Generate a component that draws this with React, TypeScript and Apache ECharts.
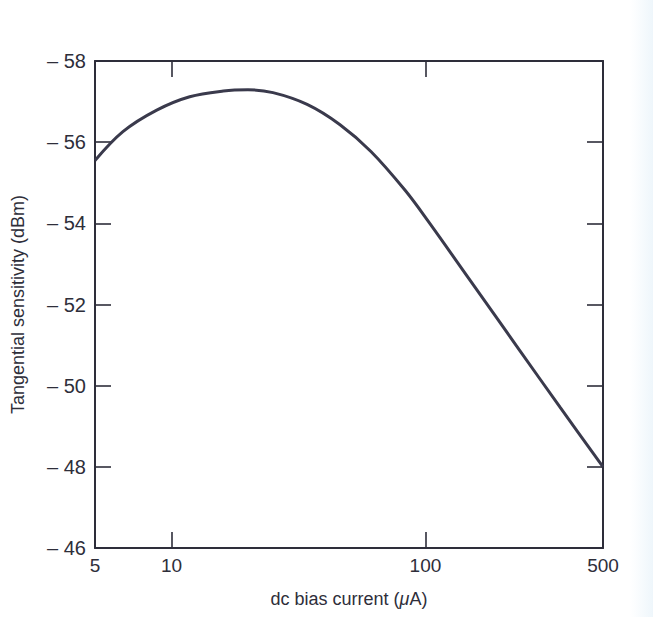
import React, { useEffect, useRef } from "react";
import * as echarts from "echarts";

const biasCurrent = [5, 6.44, 8.75, 11.8, 16, 20, 25.1, 34.2, 46.1, 61, 83, 102.3, 149.7, 235.6, 338.6, 500];
const sensitivity = [-55.55, -56.26, -56.79, -57.12, -57.26, -57.29, -57.22, -56.93, -56.43, -55.77, -54.82, -54.06, -52.6, -50.86, -49.47, -48.0];
const xTickValues = [5, 10, 100, 500];
const yMin = -58;
const yMax = -46;
const yStep = 2;

const INK = "#2e2e3a";
const FONT = "Liberation Sans";

export default function App() {
  const ref = useRef<HTMLDivElement>(null);
  useEffect(() => {
    if (!ref.current) return;
    const chart = echarts.init(ref.current, undefined, { renderer: "svg" });
    const data = biasCurrent.map((x, i) => [x, sensitivity[i]]);
    const axisLine = { show: true, lineStyle: { color: INK, width: 2 } };
    const tick = { show: true, inside: true, length: 16, lineStyle: { color: INK, width: 1.6 } };
    chart.setOption({
      animation: false,
      backgroundColor: "#ffffff",
      graphic: [
        {
          type: "rect",
          left: 630,
          top: 0,
          shape: { width: 23, height: 617 },
          silent: true,
          z: -10,
          style: {
            fill: new echarts.graphic.LinearGradient(0, 0, 1, 0, [
              { offset: 0, color: "rgba(240,247,252,0)" },
              { offset: 1, color: "rgba(238,246,251,1)" },
            ]),
          },
        },
      ],
      grid: { left: 95, right: 50, top: 61, bottom: 69, containLabel: false },
      xAxis: [
        {
          type: "log",
          logBase: 10,
          min: 5,
          max: 500,
          position: "bottom",
          axisLine,
          axisTick: tick,
          splitLine: { show: false },
          minorTick: { show: false },
          axisLabel: {
            show: true,
            color: INK,
            fontFamily: FONT,
            fontSize: 19,
            margin: 8,
            showMinLabel: true,
            showMaxLabel: true,
            formatter: (v: number) => {
              const r = Math.round(v);
              return xTickValues.includes(r) ? String(r) : "";
            },
          },
          name: "dc bias current ({i|μ}A)",
          nameLocation: "middle",
          nameGap: 42,
          nameTextStyle: {
            color: INK,
            fontFamily: FONT,
            fontSize: 18,
            rich: { i: { fontStyle: "italic", fontFamily: FONT, fontSize: 18, color: INK } },
          },
        },
        {
          type: "log",
          logBase: 10,
          min: 5,
          max: 500,
          position: "top",
          axisLine,
          axisTick: tick,
          splitLine: { show: false },
          axisLabel: { show: false },
        },
      ],
      yAxis: [
        {
          type: "value",
          min: yMin,
          max: yMax,
          interval: yStep,
          inverse: true,
          position: "left",
          axisLine,
          axisTick: tick,
          splitLine: { show: false },
          axisLabel: {
            color: INK,
            fontFamily: FONT,
            fontSize: 20,
            margin: 9,
            formatter: (v: number) => "\u2013 " + Math.abs(v),
          },
          name: "Tangential sensitivity (dBm)",
          nameLocation: "middle",
          nameGap: 68,
          nameRotate: 90,
          nameTextStyle: { color: INK, fontFamily: FONT, fontSize: 18 },
        },
        {
          type: "value",
          min: yMin,
          max: yMax,
          interval: yStep,
          inverse: true,
          position: "right",
          axisLine,
          axisTick: tick,
          splitLine: { show: false },
          axisLabel: { show: false },
        },
      ],
      series: [
        {
          type: "line",
          data,
          smooth: 0.35,
          showSymbol: false,
          symbol: "none",
          lineStyle: { color: "#3a3a4c", width: 3 },
          xAxisIndex: 0,
          yAxisIndex: 0,
        },
      ],
    });
    return () => chart.dispose();
  }, []);
  return (
    <div
      ref={ref}
      style={{ position: "fixed", left: 0, top: 0, width: 653, height: 617, background: "#fff" }}
    />
  );
}
